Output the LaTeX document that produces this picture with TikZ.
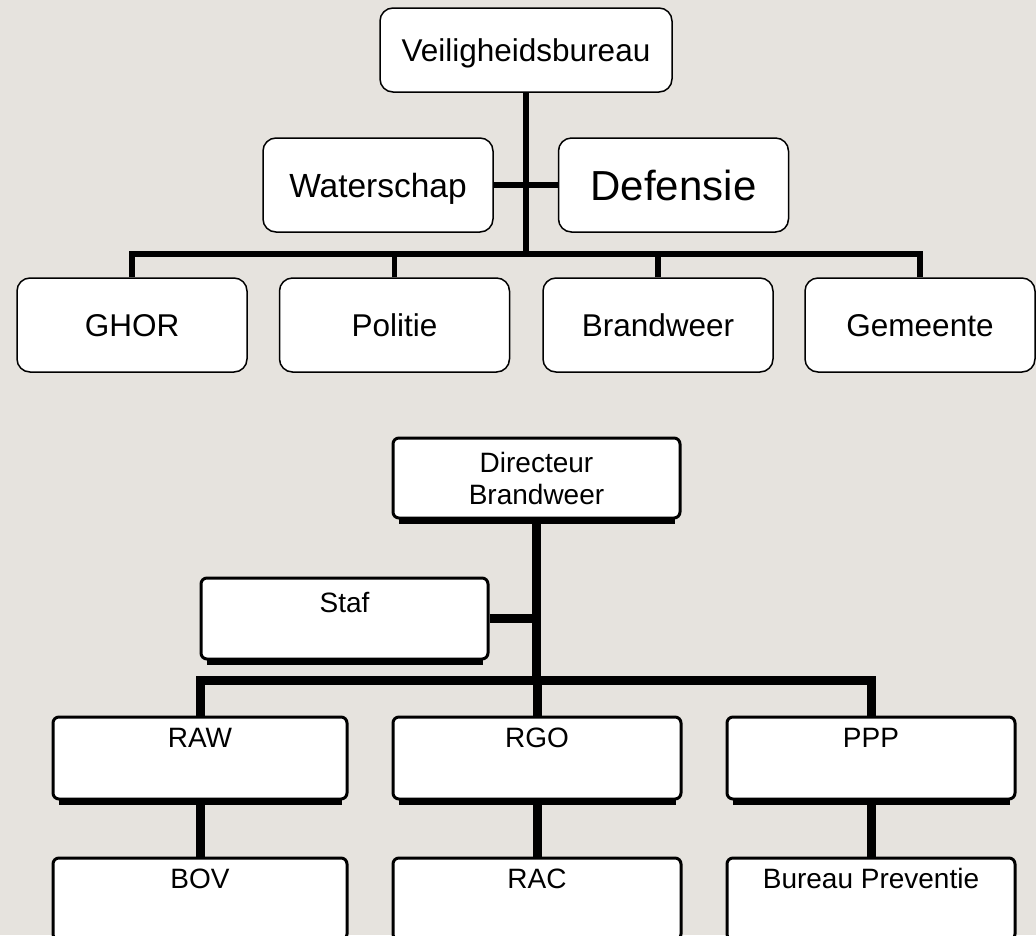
\documentclass[tikz,border=0pt]{standalone}
\usepackage{fontspec}
\setmainfont{Liberation Sans}
\definecolor{bgcol}{RGB}{230,227,222}

\begin{document}
\begin{tikzpicture}[x=1pt,y=-1pt,text centered,
    topbox/.style={draw,line width=1.5pt,fill=white,rounded corners=13pt,
        minimum width=230pt,minimum height=94pt,inner sep=0pt,
        text height=22.5pt,text depth=0pt,
        font=\fontsize{31.5}{36}\selectfont},
    oldbox/.style={draw,line width=3pt,fill=white,rounded corners=6pt,
        minimum width=288pt,minimum height=82pt,inner sep=0pt,
        font=\fontsize{28}{32}\selectfont},
    oldlabel/.style={label={[anchor=north,yshift=-12pt,inner sep=0pt,
        text height=20pt,text depth=0pt,
        font=\fontsize{28}{32}\selectfont]north:#1}},
    thinlink/.style={line width=5.5pt},
    thicklink/.style={line width=9pt}]

    \path[use as bounding box,fill=bgcol] (0,0) rectangle (1036,935);
    \clip (0,0) rectangle (1036,935);

    \begin{scope}
    % Veiligheidsregio
    \node [topbox,minimum width=292pt,minimum height=84pt] (vb) at (526,50) {Veiligheidsbureau};
    \node [topbox,text height=24pt,font=\fontsize{33.5}{38}\selectfont] (water) at (378,185) {Waterschap};
    \node [topbox,text height=30pt,font=\fontsize{42}{48}\selectfont] (def) at (673.5,185) {Defensie};

    \node [topbox] (ghor) at (132,325) {GHOR};
    \node [topbox] (pol) at (394.5,325) {Politie};
    \node [topbox] (brand) at (658,325) {Brandweer};
    \node [topbox] (gem) at (920,325) {Gemeente};

    \coordinate (bus) at (526,254);

    \draw [thinlink,line width=6pt] (vb.south) -- (bus);
    \draw [thinlink] (water.east) -- (def.west);
    \draw [thinlink] (ghor.north) |- (bus) -| (gem.north);
    \draw [thinlink] (pol.north) -- (pol.north |- bus);
    \draw [thinlink] (brand.north) -- (brand.north |- bus);
    \end{scope}

    \begin{scope}
    % Brandweer
    \node [oldbox,minimum width=287pt,minimum height=80pt,align=center] (dir) at (536.5,478) {Directeur\\Brandweer};
    \node [oldbox,minimum width=287pt,minimum height=81pt,
        label={[anchor=north,yshift=-16pt,inner sep=0pt,text height=20pt,text depth=0pt,
        font=\fontsize{28}{32}\selectfont]north:Staf}] (staf) at (344.5,618.5) {};

    \node [oldbox,minimum width=294pt,oldlabel=RAW] (raw) at (200,758) {};
    \node [oldbox,oldlabel=RGO] (rgo) at (537,758) {};
    \node [oldbox,oldlabel=PPP] (ppp) at (871,758) {};

    \node [oldbox,minimum width=294pt,oldlabel=BOV] (bov) at (200,899) {};
    \node [oldbox,oldlabel=RAC] (rac) at (537,899) {};
    \node [oldbox,oldlabel=Bureau Preventie] (bp) at (871,899) {};

    \foreach \n in {dir,staf,raw,rgo,ppp,bov,rac,bp}
        \draw [line width=5pt] ([xshift=7pt,yshift=-1.5pt]\n.south west) -- ([xshift=-7pt,yshift=-1.5pt]\n.south east);

    \coordinate (bbus) at (536.5,680);

    \draw [thicklink] (dir.south) -- (bbus);
    \draw [thicklink] (staf.east) -- (staf.east -| dir.south);
    \draw [thicklink] (raw.north) |- (bbus) -| (ppp.north);
    \draw [thicklink] (rgo.north) -- (rgo.north |- bbus);

    \draw [thicklink] (raw.south) -- (bov.north);
    \draw [thicklink] (rgo.south) -- (rac.north);
    \draw [thicklink] (ppp.south) -- (bp.north);
    \end{scope}
\end{tikzpicture}
\end{document}
